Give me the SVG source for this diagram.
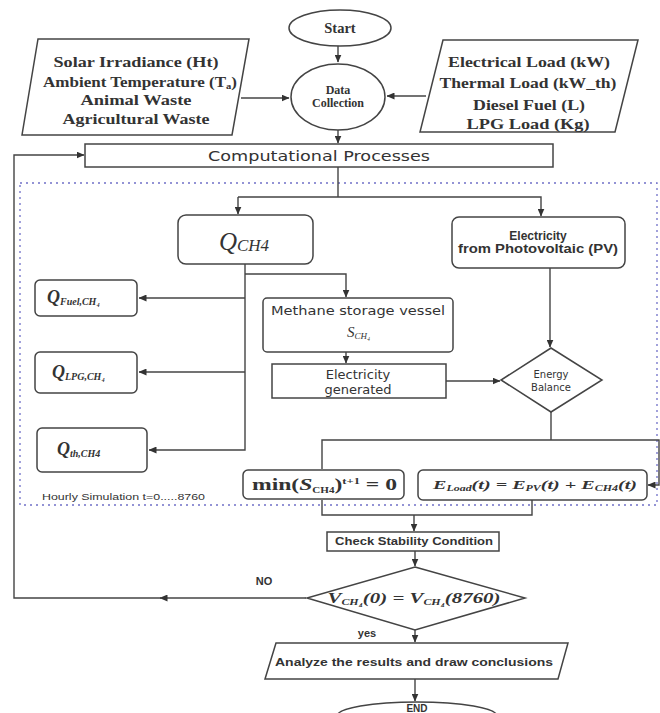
<svg xmlns="http://www.w3.org/2000/svg" width="660" height="713" viewBox="0 0 660 713">
<defs>
<marker id="ar" markerWidth="8" markerHeight="7" refX="7.5" refY="3.5" orient="auto" markerUnits="userSpaceOnUse">
<path d="M0,0 L8,3.5 L0,7 z" fill="#333"/>
</marker>
<style>
.sh{fill:#fff;stroke:#444;stroke-width:1.5}
.ln{fill:none;stroke:#444;stroke-width:1.4}
.bs{font-family:"Liberation Serif",serif;font-weight:bold;fill:#333}
.sa{font-family:"Liberation Sans",Arial,sans-serif;fill:#333}
.dv{font-family:"DejaVu Sans",Verdana,sans-serif;fill:#333}
.mi{font-family:"Liberation Serif",serif;font-style:italic;fill:#333}
.bi{font-family:"Liberation Serif",serif;font-style:italic;font-weight:bold;fill:#333}
</style>
</defs>
<rect width="660" height="713" fill="#fff"/>

<g id="sim-region">
<rect x="20" y="183" width="637" height="322" fill="none" stroke="#7070c8" stroke-width="1.3" stroke-dasharray="2 4"/>
<text class="sa" x="42" y="500" font-size="9" textLength="163" lengthAdjust="spacingAndGlyphs">Hourly Simulation t=0.....8760</text>
</g>

<g id="connectors">
<path class="ln" d="M338,46 V62" marker-end="url(#ar)"/>
<path class="ln" d="M241,98 H289" marker-end="url(#ar)"/>
<path class="ln" d="M426,96 H387" marker-end="url(#ar)"/>
<path class="ln" d="M338,130 V143" marker-end="url(#ar)"/>
<path class="ln" d="M306,598 H160" marker-end="url(#ar)"/>
<path class="ln" d="M162,598 H14 V155 H84" marker-end="url(#ar)"/>
<path class="ln" d="M338,167 V197"/>
<path class="ln" d="M238,197 H541 V216" marker-end="url(#ar)"/>
<path class="ln" d="M238,197 V214" marker-end="url(#ar)"/>
<path class="ln" d="M245,264 V450 H149" marker-end="url(#ar)"/>
<path class="ln" d="M245,274 H346 V297" marker-end="url(#ar)"/>
<path class="ln" d="M245,298 H139" marker-end="url(#ar)"/>
<path class="ln" d="M245,372 H139" marker-end="url(#ar)"/>
<path class="ln" d="M346,352 V363" marker-end="url(#ar)"/>
<path class="ln" d="M446,381 H500" marker-end="url(#ar)"/>
<path class="ln" d="M550,268 V347" marker-end="url(#ar)"/>
<path class="ln" d="M551,412 V440"/>
<path class="ln" d="M322,469 V440 H659 V485 H648" marker-end="url(#ar)"/>
<path class="ln" d="M322,500 V515 H532 V500"/>
<path class="ln" d="M414,515 V531" marker-end="url(#ar)"/>
<path class="ln" d="M415,551 V566" marker-end="url(#ar)"/>
<path class="ln" d="M415,630 V642" marker-end="url(#ar)"/>
<path class="ln" d="M415,679 V701" marker-end="url(#ar)"/>
</g>

<g id="start">
<ellipse class="sh" cx="340" cy="28" rx="51" ry="18"/>
<text class="bs" x="340" y="33" font-size="14.5" text-anchor="middle">Start</text>
</g>

<g id="inputs-left">
<polygon class="sh" points="38,39 249,39 232,135 22,135"/>
<text class="bs" x="136" y="67" font-size="14.5" text-anchor="middle" textLength="165" lengthAdjust="spacingAndGlyphs">Solar Irradiance (Ht)</text>
<text class="bs" x="140" y="87" font-size="14.5" text-anchor="middle" textLength="194" lengthAdjust="spacingAndGlyphs">Ambient Temperature (T<tspan font-size="9" dy="2">a</tspan><tspan dy="-2">)</tspan></text>
<text class="bs" x="136" y="105" font-size="14.5" text-anchor="middle" textLength="111" lengthAdjust="spacingAndGlyphs">Animal Waste</text>
<text class="bs" x="136" y="124" font-size="14.5" text-anchor="middle" textLength="147" lengthAdjust="spacingAndGlyphs">Agricultural Waste</text>
</g>

<g id="inputs-right">
<polygon class="sh" points="443,40 638,40 615,132 420,132"/>
<text class="bs" x="529" y="67" font-size="14.5" text-anchor="middle" textLength="162" lengthAdjust="spacingAndGlyphs">Electrical Load (kW)</text>
<text class="bs" x="528" y="88" font-size="14.5" text-anchor="middle" textLength="177" lengthAdjust="spacingAndGlyphs">Thermal Load (kW_th)</text>
<text class="bs" x="529" y="110" font-size="14.5" text-anchor="middle" textLength="112" lengthAdjust="spacingAndGlyphs">Diesel Fuel (L)</text>
<text class="bs" x="528" y="129" font-size="14.5" text-anchor="middle" textLength="123" lengthAdjust="spacingAndGlyphs">LPG Load  (Kg)</text>
</g>

<g id="data-collection">
<ellipse class="sh" cx="338" cy="97" rx="47" ry="33"/>
<text class="bs" x="338" y="94" font-size="12" text-anchor="middle">Data</text>
<text class="bs" x="338" y="107" font-size="12" text-anchor="middle">Collection</text>
</g>

<g id="computational">
<rect class="sh" x="85" y="144" width="468" height="23"/>
<text class="dv" x="319" y="161" font-size="14" text-anchor="middle" textLength="222" lengthAdjust="spacingAndGlyphs">Computational Processes</text>
</g>

<g id="q-ch4">
<rect class="sh" x="178" y="215" width="135" height="49" rx="8"/>
<text class="mi" x="244" y="250" font-size="25" text-anchor="middle">Q<tspan font-size="17" dy="1">CH4</tspan></text>
</g>

<g id="pv">
<rect class="sh" x="452" y="217" width="173" height="51" rx="7"/>
<text class="sa" x="538" y="240" font-size="12" font-weight="bold" text-anchor="middle">Electricity</text>
<text class="sa" x="538" y="253" font-size="12" font-weight="bold" text-anchor="middle" textLength="160" lengthAdjust="spacingAndGlyphs">from Photovoltaic (PV)</text>
</g>

<g id="q-fuel">
<rect class="sh" x="35" y="280" width="102" height="36" rx="5"/>
<text class="bi" x="47" y="303" font-size="18">Q<tspan font-size="10" dy="2">Fuel,CH₄</tspan></text>
</g>

<g id="q-lpg">
<rect class="sh" x="35" y="352" width="102" height="41" rx="5"/>
<text class="bi" x="52" y="378" font-size="18">Q<tspan font-size="10" dy="2">LPG,CH₄</tspan></text>
</g>

<g id="q-th">
<rect class="sh" x="37" y="428" width="110" height="44" rx="5"/>
<text class="bi" x="57" y="455" font-size="18">Q<tspan font-size="10" dy="2">th,CH4</tspan></text>
</g>

<g id="methane-storage">
<rect class="sh" x="263" y="298" width="190" height="54" rx="4"/>
<text class="dv" x="358" y="315" font-size="12.5" text-anchor="middle" textLength="174" lengthAdjust="spacingAndGlyphs">Methane storage vessel</text>
<text class="mi" x="347" y="337" font-size="15">S<tspan font-size="9" dy="2">CH₄</tspan></text>
</g>

<g id="electricity-generated">
<rect class="sh" x="272" y="364" width="174" height="34"/>
<text class="dv" x="358" y="379" font-size="13" text-anchor="middle">Electricity</text>
<text class="dv" x="358" y="394" font-size="13" text-anchor="middle">generated</text>
</g>

<g id="energy-balance">
<polygon class="sh" points="551,348 602,380 551,412 501,380"/>
<text class="dv" x="551" y="378" font-size="10" text-anchor="middle">Energy</text>
<text class="dv" x="551" y="391" font-size="10" text-anchor="middle">Balance</text>
</g>

<g id="min-storage">
<rect class="sh" x="243" y="470" width="161" height="29" rx="5"/>
<text class="bs" x="252" y="490" font-size="16" textLength="145" lengthAdjust="spacingAndGlyphs">min(<tspan font-style="italic">S</tspan><tspan font-size="7.5" dy="3">CH4</tspan><tspan dy="-3">)</tspan><tspan font-size="8.5" dy="-6">t+1</tspan><tspan dy="6"> = 0</tspan></text>
</g>

<g id="energy-equation">
<rect class="sh" x="418" y="470" width="229" height="30" rx="5"/>
<text class="bi" x="433" y="489" font-size="13.5" textLength="204" lengthAdjust="spacingAndGlyphs">E<tspan font-size="8" dy="2">Load</tspan><tspan dy="-2">(t) = E</tspan><tspan font-size="8" dy="2">PV</tspan><tspan dy="-2">(t) + E</tspan><tspan font-size="8" dy="2">CH4</tspan><tspan dy="-2">(t)</tspan></text>
</g>

<g id="check-stability">
<rect class="sh" x="327" y="532" width="172" height="19"/>
<text class="sa" x="414" y="545" font-size="10.5" font-weight="bold" text-anchor="middle" textLength="158" lengthAdjust="spacingAndGlyphs">Check Stability Condition</text>
</g>

<g id="stability-decision">
<polygon class="sh" points="415,567 525,598 415,630 307,598"/>
<text class="bi" x="414" y="603" font-size="14" text-anchor="middle" textLength="173" lengthAdjust="spacingAndGlyphs">V<tspan font-size="8" dy="2">CH₄</tspan><tspan dy="-2">(0) = V</tspan><tspan font-size="8" dy="2">CH₄</tspan><tspan dy="-2">(8760)</tspan></text>
<text class="sa" x="264" y="585" font-size="11" font-weight="bold" text-anchor="middle">NO</text>
<text class="sa" x="367" y="637" font-size="11" font-weight="bold" text-anchor="middle">yes</text>
</g>

<g id="analyze">
<polygon class="sh" points="276,643 568,643 558,679 265,679"/>
<text class="sa" x="414" y="666" font-size="11.5" font-weight="bold" text-anchor="middle" textLength="278" lengthAdjust="spacingAndGlyphs">Analyze the results and draw conclusions</text>
</g>

<g id="end">
<ellipse class="sh" cx="417" cy="716" rx="80" ry="14"/>
<text class="sa" x="417" y="712" font-size="10" font-weight="bold" text-anchor="middle">END</text>
</g>
</svg>
